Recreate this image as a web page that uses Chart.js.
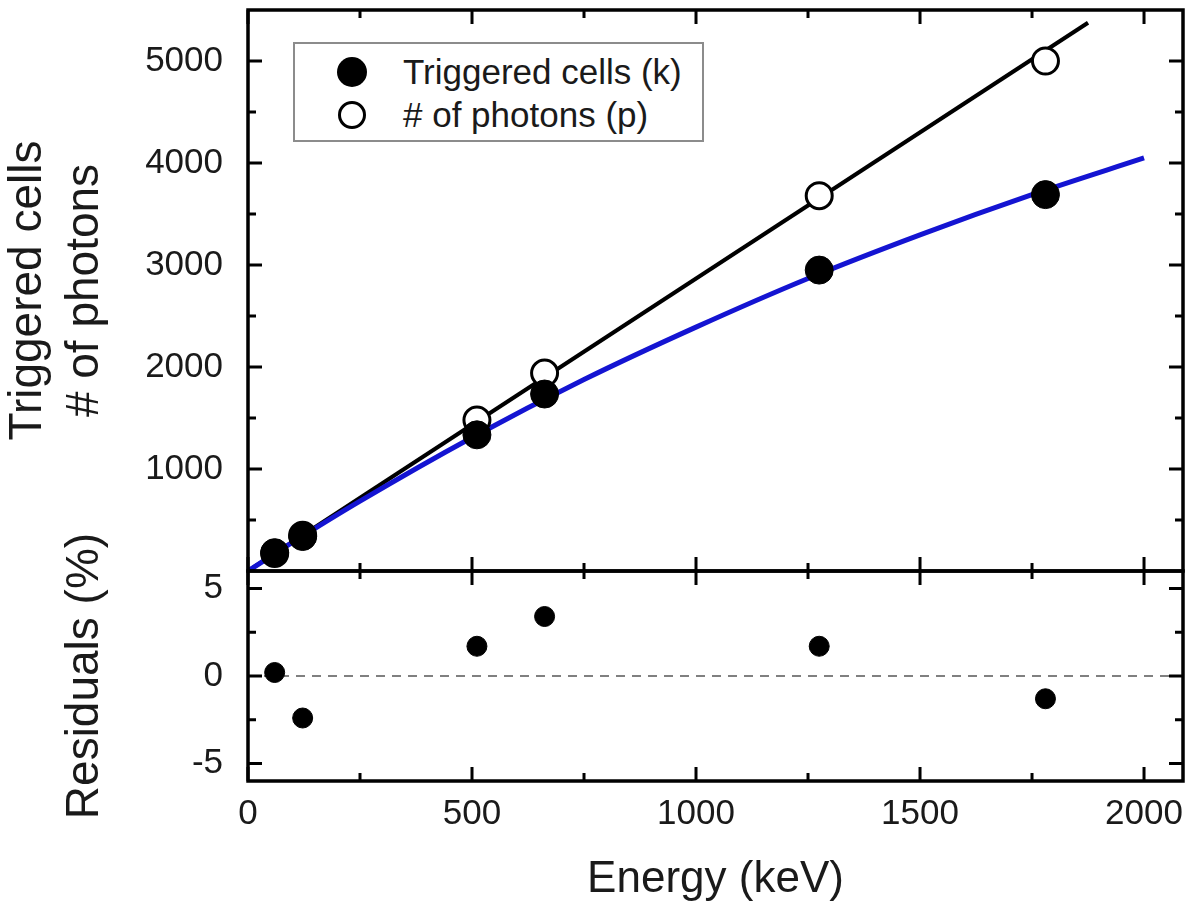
<!DOCTYPE html>
<html lang="en">
<head>
  <meta charset="UTF-8" />
  <title>Triggered cells vs energy</title>
  <script src="https://cdn.jsdelivr.net/npm/chart.js"></script>
  <style>
    body {
      margin: 0;
      background: #ffffff;
      font-family: 'Liberation Sans', Arial, sans-serif;
    }
    #wrap {
      position: relative;
      width: 1188px;
      height: 910px;
    }
    #wrap canvas {
      position: absolute;
      left: 0;
      top: 0;
    }
    #legend {
      position: absolute;
      left: 293px;
      top: 42px;
      width: 407px;
      height: 96px;
      border: 2px solid #8c8c8c;
      background: #ffffff;
    }
    .lg-dot {
      position: absolute;
      border-radius: 50%;
      box-sizing: border-box;
    }
    .lg-text {
      position: absolute;
      left: 108px;
      font-size: 35px;
      line-height: 40px;
      color: #1a1a1a;
      white-space: nowrap;
    }
  </style>
</head>
<body>

<div id="wrap">
  <canvas id="topChart" width="1188" height="910"></canvas>
  <canvas id="resChart" width="1188" height="910"></canvas>
  <div id="legend">
    <div class="lg-dot" style="left:42px; top:13px; width:30px; height:30px; background:#000;"></div>
    <div class="lg-text" style="top:8px;">Triggered cells (k)</div>
    <div class="lg-dot" style="left:43px; top:57px; width:28px; height:28px; border:3px solid #000; background:#fff;"></div>
    <div class="lg-text" style="top:51px;"># of photons (p)</div>
  </div>
</div>

<script>
  // measured points
  const energies       = [59.5, 122, 511, 662, 1275, 1780];
  const triggeredCells = [180, 338, 1335, 1735, 2950, 3690];
  const photons        = [171, 350, 1480, 1940, 3680, 5000];
  const residuals      = [0.2, -2.4, 1.7, 3.4, 1.7, -1.3];

  // fitted curves
  const fitEnergies = [0, 100, 250, 500, 750, 1000, 1250, 1500, 1750, 2000];
  const fitCells    = [0, 282, 685, 1309, 1877, 2391, 2868, 3296, 3690, 4050];
  const lineEnergies = [0, 1875];
  const linePhotons  = [0, 5375];
  const zeroLineX = [0, 2087];
  const zeroLineY = [0, 0];

  // axes
  const xMin = 0, xMax = 2087;
  const topMin = 0, topMax = 5500;
  const resMin = -6, resMax = 6;
  const xMajor = [0, 500, 1000, 1500, 2000];
  const xMinor = [250, 750, 1250, 1750];
  const topMajor = [1000, 2000, 3000, 4000, 5000];
  const topMinor = [500, 1500, 2500, 3500, 4500];
  const resMajor = [-5, 0, 5];
  const resMinor = [-2.5, 2.5];

  const FONT = "'Liberation Sans', Arial, sans-serif";
  const TEXT = '#1a1a1a';

  const pts = (xs, ys) => xs.map((x, i) => ({ x, y: ys[i] }));
  const fixTicks = (lo, vals, hi) => s => {
    s.ticks = [lo, ...vals, hi].filter((v, i, a) => a.indexOf(v) === i).map(v => ({ value: v }));
  };
  const labelOf = vals => v => vals.includes(v) ? String(v) : null;
  // fixed axis size, and no extra room reserved for the end labels
  const fitY = s => { s.width = 248; s.paddingTop = 0; s.paddingBottom = 0; };
  const fitX = s => { s.height = 129; s.paddingLeft = 0; s.paddingRight = 0; };

  // box frame + inward ticks on every side
  const framePlugin = {
    id: 'frame',
    afterDatasetsDraw(chart, args, opts) {
      const { ctx, chartArea: a } = chart;
      const x = chart.scales.x, y = chart.scales.y;
      ctx.save();
      ctx.strokeStyle = '#000';
      ctx.lineWidth = 3;
      ctx.beginPath();
      const seg = (x1, y1, x2, y2) => { ctx.moveTo(x1, y1); ctx.lineTo(x2, y2); };
      const xt = (vals, len) => vals.forEach(v => {
        const p = x.getPixelForValue(v);
        seg(p, a.top, p, a.top + len);
        seg(p, a.bottom, p, a.bottom - len);
      });
      const yt = (vals, len) => vals.forEach(v => {
        const p = y.getPixelForValue(v);
        seg(a.left, p, a.left + len, p);
        seg(a.right, p, a.right - len, p);
      });
      xt(opts.xMajor, 14); xt(opts.xMinor, 8);
      yt(opts.yMajor, 14); yt(opts.yMinor, 8);
      ctx.stroke();
      ctx.lineWidth = 3.5;
      ctx.strokeRect(a.left, a.top, a.right - a.left, a.bottom - a.top);
      ctx.restore();
    }
  };

  const noGrid = { display: false, drawTicks: false };

  new Chart(document.getElementById('topChart'), {
    type: 'scatter',
    data: {
      datasets: [
        {
          label: 'Triggered cells (k)',
          data: pts(energies, triggeredCells),
          pointRadius: 14,
          pointBackgroundColor: '#000',
          pointBorderColor: '#000',
          pointBorderWidth: 1
        },
        {
          label: '# of photons (p)',
          data: pts(energies, photons),
          pointRadius: 13,
          pointBackgroundColor: '#fff',
          pointBorderColor: '#000',
          pointBorderWidth: 3
        },
        {
          label: 'fit k',
          data: pts(fitEnergies, fitCells),
          showLine: true,
          borderColor: '#1414d2',
          borderWidth: 5,
          pointRadius: 0,
          cubicInterpolationMode: 'monotone'
        },
        {
          label: 'fit p',
          data: pts(lineEnergies, linePhotons),
          showLine: true,
          borderColor: '#000',
          borderWidth: 4,
          pointRadius: 0
        }
      ]
    },
    options: {
      responsive: false,
      animation: false,
      events: [],
      layout: { autoPadding: false, padding: { top: 10, right: 5, bottom: 339, left: 0 } },
      plugins: {
        legend: { display: false },
        tooltip: { enabled: false },
        frame: { xMajor, xMinor, yMajor: topMajor, yMinor: topMinor }
      },
      scales: {
        x: { type: 'linear', min: xMin, max: xMax, display: false },
        y: {
          type: 'linear',
          min: topMin,
          max: topMax,
          grid: noGrid,
          border: { display: false },
          afterFit: fitY,
          afterBuildTicks: fixTicks(topMin, topMajor, topMax),
          ticks: {
            autoSkip: false,
            padding: 25,
            color: TEXT,
            font: { family: FONT, size: 35 },
            callback: labelOf(topMajor)
          },
          title: {
            display: true,
            text: ['Triggered cells', '# of photons'],
            color: TEXT,
            font: { family: FONT, size: 46, lineHeight: 1.24 },
            padding: { top: 0, bottom: 0 }
          }
        }
      }
    },
    plugins: [framePlugin]
  });

  new Chart(document.getElementById('resChart'), {
    type: 'scatter',
    data: {
      datasets: [
        {
          label: 'Residuals',
          data: pts(energies, residuals),
          pointRadius: 10,
          pointBackgroundColor: '#000',
          pointBorderColor: '#000',
          pointBorderWidth: 1
        },
        {
          label: 'zero',
          data: pts(zeroLineX, zeroLineY),
          showLine: true,
          borderColor: '#808080',
          borderWidth: 2,
          borderDash: [9, 7],
          pointRadius: 0
        }
      ]
    },
    options: {
      responsive: false,
      animation: false,
      events: [],
      layout: { autoPadding: false, padding: { top: 571, right: 5, bottom: 0, left: 0 } },
      plugins: {
        legend: { display: false },
        tooltip: { enabled: false },
        frame: { xMajor, xMinor, yMajor: resMajor, yMinor: resMinor }
      },
      scales: {
        x: {
          type: 'linear',
          min: xMin,
          max: xMax,
          grid: noGrid,
          border: { display: false },
          afterFit: fitX,
          afterBuildTicks: fixTicks(xMin, xMajor, xMax),
          ticks: {
            autoSkip: false,
            padding: 12,
            maxRotation: 0,
            color: TEXT,
            font: { family: FONT, size: 35 },
            callback: labelOf(xMajor)
          },
          title: {
            display: true,
            text: 'Energy (keV)',
            color: TEXT,
            font: { family: FONT, size: 44 },
            padding: { top: 0, bottom: 4 }
          }
        },
        y: {
          type: 'linear',
          min: resMin,
          max: resMax,
          grid: noGrid,
          border: { display: false },
          afterFit: fitY,
          afterBuildTicks: fixTicks(resMin, resMajor, resMax),
          ticks: {
            autoSkip: false,
            padding: 25,
            color: TEXT,
            font: { family: FONT, size: 35 },
            callback: labelOf(resMajor)
          },
          title: {
            display: true,
            text: 'Residuals (%)',
            color: TEXT,
            font: { family: FONT, size: 46, lineHeight: 1.24 },
            padding: { top: 57, bottom: 0 }
          }
        }
      }
    },
    plugins: [framePlugin]
  });
</script>

</body>
</html>
